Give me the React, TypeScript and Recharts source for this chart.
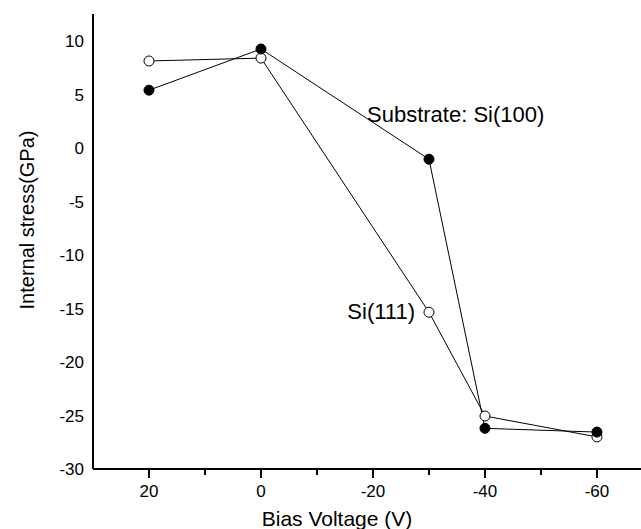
import React from 'react';
import { LineChart, Line, XAxis, YAxis } from 'recharts';

const biasVoltage = [20, 0, -30, -40, -60];
const si100Stress = [5.4, 9.25, -1.05, -26.2, -26.55];
const si111Stress = [8.13, 8.4, -15.35, -25.05, -27.0];

const xTicks = [20, 10, 0, -10, -20, -30, -40, -50, -60];
const xLabelled = [20, 0, -20, -40, -60];
const yTicks = [10, 5, 0, -5, -10, -15, -20, -25, -30];

const data = biasVoltage.map((v, i) => ({ v, s100: si100Stress[i], s111: si111Stress[i] }));

const FONT = "Arial, 'Liberation Sans', Helvetica, sans-serif";
const W = 641;
const H = 529;

const XTick = ({ x, y, payload }: any) => {
  const major = xLabelled.includes(payload.value);
  return (
    <g>
      <line x1={x} x2={x} y1={y} y2={y + (major ? 9 : 6)} stroke="#000" strokeWidth={2} />
      {major && (
        <text x={x} y={y + 28} textAnchor="middle" fontSize={17} fontFamily={FONT} fill="#000">
          {payload.value}
        </text>
      )}
    </g>
  );
};

const App: React.FC = () => {
  return (
    <div style={{ position: 'absolute', left: 0, top: 0, width: W, height: H, background: '#fff' }}>
      <LineChart width={W} height={H} data={data} margin={{ top: 14, right: 0, bottom: 0, left: 0 }}>
        <XAxis
          dataKey="v"
          type="number"
          domain={[-67.86, 30]}
          reversed
          ticks={xTicks}
          interval={0}
          height={60}
          tickSize={0}
          tickMargin={0}
          tick={<XTick />}
          axisLine={{ stroke: '#000', strokeWidth: 2 }}
        />
        <XAxis
          xAxisId="top"
          orientation="top"
          dataKey="v"
          type="number"
          domain={[-67.86, 30]}
          reversed
          height={0}
          tick={false}
          tickLine={false}
          axisLine={{ stroke: '#000', strokeWidth: 2 }}
        />
        <YAxis
          type="number"
          domain={[-30, 12.52]}
          ticks={yTicks}
          interval={0}
          width={93}
          tickLine={false}
          tickSize={7}
          tickMargin={2}
          axisLine={{ stroke: '#000', strokeWidth: 2 }}
          tick={{ fill: '#000', fontSize: 17, fontFamily: FONT }}
        />
        <Line
          dataKey="s111"
          stroke="#000"
          strokeWidth={1}
          isAnimationActive={false}
          dot={{ r: 5, fill: '#fff', stroke: '#000', strokeWidth: 1 }}
        />
        <Line
          dataKey="s100"
          stroke="#000"
          strokeWidth={1}
          isAnimationActive={false}
          dot={{ r: 5, fill: '#000', stroke: '#000', strokeWidth: 1 }}
        />
      </LineChart>
      <svg width={W} height={H} style={{ position: 'absolute', left: 0, top: 0, pointerEvents: 'none' }}>
        <text x={367} y={122} fontSize={22} fontFamily={FONT} fill="#000">
          Substrate: Si(100)
        </text>
        <text x={415} y={319} textAnchor="end" fontSize={22} fontFamily={FONT} fill="#000">
          Si(111)
        </text>
        <text x={337} y={526} textAnchor="middle" fontSize={21} fontFamily={FONT} fill="#000">
          Bias Voltage (V)
        </text>
        <text
          x={0}
          y={0}
          transform="translate(34,220) rotate(-90)"
          textAnchor="middle"
          fontSize={20}
          fontFamily={FONT}
          fill="#000"
        >
          Internal stress(GPa)
        </text>
      </svg>
    </div>
  );
};

export default App;
